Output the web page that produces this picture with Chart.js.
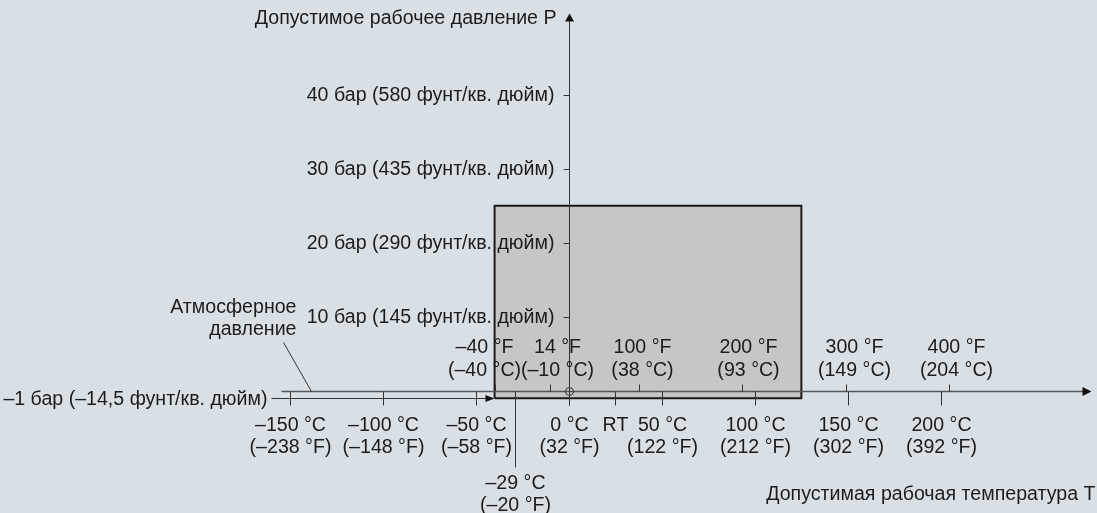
<!DOCTYPE html>
<html>
<head>
<meta charset="utf-8">
<title>Допустимое рабочее давление / температура</title>
<script src="https://cdn.jsdelivr.net/npm/chart.js@4.4.0/dist/chart.umd.min.js"></script>
<style>
    body { margin: 0; background: #d9e0e5; }
    #wrap { width: 1097px; height: 513px; position: relative; }
</style>
</head>
<body>
<div id="wrap"><canvas id="diagram"></canvas></div>
<script>
// Temperature axis (°C), labels below the axis
const celsiusTicks = [-150, -100, -50, 0, 50, 100, 150, 200];
const celsiusLabels = ['–150 °C', '–100 °C', '–50 °C', '0 °C', '50 °C', '100 °C', '150 °C', '200 °C'];
const celsiusInF = ['(–238 °F)', '(–148 °F)', '(–58 °F)', '(32 °F)', '(122 °F)', '(212 °F)', '(302 °F)', '(392 °F)'];

// Fahrenheit marks, labels above the axis
const fahrenheitTicks = [-40, 14, 100, 200, 300, 400];
const fahrenheitLabels = ['–40 °F', '14 °F', '100 °F', '200 °F', '300 °F', '400 °F'];
const fahrenheitInC = ['(–40 °C)', '(–10 °C)', '(38 °C)', '(93 °C)', '(149 °C)', '(204 °C)'];

// Pressure axis (bar)
const pressureTicks = [10, 20, 30, 40];
const pressureLabels = [
    '10 бар (145 фунт/кв. дюйм)',
    '20 бар (290 фунт/кв. дюйм)',
    '30 бар (435 фунт/кв. дюйм)',
    '40 бар (580 фунт/кв. дюйм)'
];

// Permitted operating range
const tempRange = [-40, 125];
const pressureRange = [-1, 25];
const minTemp = -29;
const roomTemp = 25;
const vacuumPressure = -1;

const fToC = f => (f - 32) * 5 / 9;

const FONT = '19.6px "Liberation Sans", Arial, sans-serif';
const TEXT = '#1c1c1c';
const LINE = '#333';

// small sideways nudges for the crowded °F labels (px)
const fLabelShift = [-11, 7, 3, 6, 8, 7];

function arrow(ctx, x, y, dir, len, half) {
    ctx.beginPath();
    if (dir === 'right') {
        ctx.moveTo(x, y);
        ctx.lineTo(x - len, y - half);
        ctx.lineTo(x - len, y + half);
    } else {
        ctx.moveTo(x, y);
        ctx.lineTo(x - half, y + len);
        ctx.lineTo(x + half, y + len);
    }
    ctx.closePath();
    ctx.fill();
}

function line(ctx, x1, y1, x2, y2) {
    ctx.beginPath();
    ctx.moveTo(x1, y1);
    ctx.lineTo(x2, y2);
    ctx.stroke();
}

const diagramPlugin = {
    id: 'diagram',
    afterDatasetsDraw(chart) {
        const ctx = chart.ctx;
        const X = v => Math.round(chart.scales.x.getPixelForValue(v)) + 0.5;
        const Y = v => Math.round(chart.scales.y.getPixelForValue(v)) + 0.5;
        const x0 = X(0), y0 = Y(0);

        ctx.save();
        ctx.font = FONT;
        ctx.fillStyle = TEXT;
        ctx.strokeStyle = LINE;
        ctx.lineWidth = 1;

        // temperature axis
        ctx.strokeStyle = '#555';
        ctx.lineWidth = 1.5;
        const xEnd = X(281);
        line(ctx, X(-155), y0, xEnd - 6, y0);
        ctx.fillStyle = '#111';
        arrow(ctx, xEnd, y0, 'right', 9, 4.5);

        // pressure axis
        ctx.strokeStyle = LINE;
        ctx.lineWidth = 1;
        const yTop = Y(51);
        line(ctx, x0, Y(-1.9), x0, yTop + 6);
        arrow(ctx, x0, yTop, 'up', 8, 4.5);

        // origin circle
        ctx.beginPath();
        ctx.arc(x0, y0, 4, 0, Math.PI * 2);
        ctx.stroke();

        // pressure ticks + labels
        ctx.textAlign = 'right';
        ctx.textBaseline = 'alphabetic';
        ctx.fillStyle = TEXT;
        pressureTicks.forEach((p, i) => {
            const y = Y(p);
            line(ctx, x0 - 6, y, x0, y);
            ctx.fillText(pressureLabels[i], x0 - 15, y + 5);
        });
        ctx.fillText('Допустимое рабочее давление P', x0 - 13, yTop + 10);

        // °C ticks below
        ctx.textAlign = 'center';
        celsiusTicks.forEach((c, i) => {
            const x = X(c);
            line(ctx, x, y0, x, y0 + 14);
            ctx.fillText(celsiusLabels[i], x, y0 + 39);
            ctx.fillText(celsiusInF[i], x, y0 + 61);
        });

        // room temperature
        line(ctx, X(roomTemp), y0, X(roomTemp), y0 + 14);
        ctx.fillText('RT', X(roomTemp), y0 + 39);

        // °F ticks above
        fahrenheitTicks.forEach((f, i) => {
            const x = X(fToC(f));
            line(ctx, x, y0 - 7, x, y0);
            ctx.fillText(fahrenheitLabels[i], x + fLabelShift[i], y0 - 39);
            ctx.fillText(fahrenheitInC[i], x + fLabelShift[i], y0 - 16);
        });

        // minimum temperature marker
        const xm = X(minTemp);
        line(ctx, xm, y0, xm, y0 + 76);
        ctx.fillText('–29 °C', xm, y0 + 97);
        ctx.fillText('(–20 °F)', xm, y0 + 119);

        // vacuum line (-1 bar)
        const yv = Y(vacuumPressure);
        const xvStart = X(-160);
        const xvEnd = X(tempRange[0]) - 1;
        line(ctx, xvStart, yv, xvEnd - 6, yv);
        ctx.fillStyle = '#111';
        arrow(ctx, xvEnd, yv, 'right', 9, 3.5);
        ctx.fillStyle = TEXT;
        ctx.textAlign = 'right';
        ctx.fillText('–1 бар (–14,5 фунт/кв. дюйм)', xvStart - 4, yv + 6);

        // atmospheric pressure callout
        line(ctx, X(-154), y0 - 49, X(-139), y0);
        ctx.fillText('Атмосферное', X(-147), y0 - 79);
        ctx.fillText('давление', X(-147), y0 - 57);

        // x title
        ctx.fillText('Допустимая рабочая температура T', X(283), y0 + 108);

        ctx.restore();
    }
};

const ctx = document.getElementById('diagram').getContext('2d');
const chart = new Chart(ctx, {
    type: 'line',
    data: {
        datasets: [{
            label: 'Рабочий диапазон',
            data: [
                { x: tempRange[0], y: pressureRange[0] },
                { x: tempRange[0], y: pressureRange[1] },
                { x: tempRange[1], y: pressureRange[1] },
                { x: tempRange[1], y: pressureRange[0] },
                { x: tempRange[0], y: pressureRange[0] }
            ],
            borderColor: '#1a1a1a',
            borderWidth: 2,
            backgroundColor: '#c6c6c6',
            borderJoinStyle: 'miter',
            fill: 'shape',
            tension: 0,
            pointRadius: 0
        }]
    },
    options: {
        responsive: true,
        maintainAspectRatio: false,
        animation: false,
        layout: { padding: 0 },
        plugins: {
            legend: { display: false },
            tooltip: { enabled: false }
        },
        scales: {
            x: { type: 'linear', min: -306, max: 284, display: false },
            y: { type: 'linear', min: -16.5, max: 52.8, display: false }
        }
    },
    plugins: [diagramPlugin]
});
</script>
</body>
</html>
